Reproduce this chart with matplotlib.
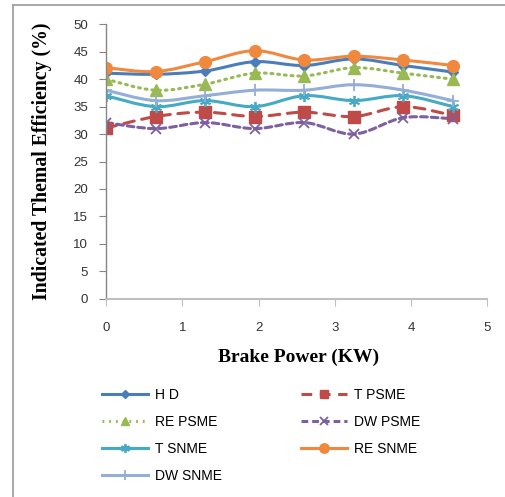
import matplotlib
matplotlib.use("Agg")
import matplotlib.pyplot as plt
from matplotlib.path import Path
from matplotlib.patches import PathPatch
from matplotlib.lines import Line2D

# brake power (KW)
power = [0, 0.65, 1.3, 1.95, 2.6, 3.25, 3.9, 4.55]

hd = [41.1, 40.9, 41.5, 43.2, 42.5, 43.7, 42.5, 41.3]
t_psme = [31.1, 33.2, 34.0, 33.2, 34.0, 33.2, 35.0, 33.4]
re_psme = [40.0, 38.0, 39.1, 41.1, 40.6, 42.1, 41.1, 40.0]
dw_psme = [32.1, 31.0, 32.1, 31.0, 32.1, 30.0, 33.0, 32.8]
t_snme = [37.0, 35.0, 36.1, 35.0, 37.0, 36.1, 37.0, 35.0]
re_snme = [42.1, 41.4, 43.2, 45.2, 43.5, 44.2, 43.5, 42.5]
dw_snme = [38.0, 36.1, 37.0, 38.0, 38.0, 39.0, 38.0, 36.1]

labels = ["H D", "T PSME", "RE PSME", "DW PSME", "T SNME", "RE SNME", "DW SNME"]
series = [hd, t_psme, re_psme, dw_psme, t_snme, re_snme, dw_snme]

# style per series: color, linestyle, marker, marker size
styles = [
    ("#4A7EBB", "-", "D", 5),
    ("#BE4B48", (0, (3.5, 2.5)), "s", 8),
    ("#98B954", (0, (0.6, 1.6)), "^", 8),
    ("#7D60A0", (0, (2.2, 1.3)), "x", 7),
    ("#46AAC5", "-", (6, 2, 0), 8),
    ("#F0883E", "-", "o", 8.5),
    ("#94AED6", "-", "+", 9),
]


def smooth_path(xs, ys):
    """bezier path through the points, like excel's smoothed line"""
    pts = list(zip(xs, ys))
    verts = [pts[0]]
    codes = [Path.MOVETO]
    n = len(pts)
    for i in range(n - 1):
        p0 = pts[i - 1] if i > 0 else pts[i]
        p1 = pts[i]
        p2 = pts[i + 1]
        p3 = pts[i + 2] if i + 2 < n else pts[i + 1]
        c1 = (p1[0] + (p2[0] - p0[0]) / 6, p1[1] + (p2[1] - p0[1]) / 6)
        c2 = (p2[0] - (p3[0] - p1[0]) / 6, p2[1] - (p3[1] - p1[1]) / 6)
        verts += [c1, c2, p2]
        codes += [Path.CURVE4] * 3
    return Path(verts, codes)


fig = plt.figure(figsize=(5.05, 4.97), dpi=100)
ax = fig.add_axes([0.21, 0.399, 0.755, 0.552])

handles = []
for vals, lab, (col, ls, mk, ms) in zip(series, labels, styles):
    mew = 1.3 if mk in ("x", "+") or isinstance(mk, tuple) else 1.0
    patch = PathPatch(smooth_path(power, vals), facecolor="none", edgecolor=col,
                      linewidth=2.2, linestyle=ls, capstyle="round")
    ax.add_patch(patch)
    ax.plot(power, vals, linestyle="none", marker=mk, markersize=ms, color=col,
            markeredgewidth=mew)
    handles.append(Line2D([], [], color=col, linestyle=ls, linewidth=2.2,
                          marker=mk, markersize=ms * 0.8, label=lab,
                          markeredgewidth=mew))

ax.set_xlim(0, 5)
ax.set_ylim(0, 50)
ax.set_xticks(range(0, 6))
ax.set_yticks(range(0, 51, 5))

for s in ["top", "right"]:
    ax.spines[s].set_visible(False)
ax.spines["left"].set_color("#868686")
ax.spines["bottom"].set_color("#BFBFBF")
ax.spines["left"].set_linewidth(1.0)
ax.spines["bottom"].set_linewidth(1.5)
ax.tick_params(axis="y", length=5, color="#868686", pad=8, labelsize=9.5)
ax.tick_params(axis="x", length=5, color="#BFBFBF", pad=12, labelsize=9.5)
for t in ax.get_xticklabels() + ax.get_yticklabels():
    t.set_fontfamily("Liberation Sans")
    t.set_color("#333333")

fig.text(0.083, 0.676, "Indicated Themal Efficiency (%)", rotation=90,
         ha="center", va="center", fontsize=14.2, fontweight="bold",
         family="Liberation Serif")
fig.text(0.592, 0.282, "Brake Power (KW)", ha="center", va="center",
         fontsize=14, fontweight="bold", family="Liberation Serif")

# column-first order so rows read H D / T PSME, RE PSME / DW PSME ...
order = [0, 2, 4, 6, 1, 3, 5]
leg = fig.legend([handles[i] for i in order], [labels[i] for i in order],
                 ncol=2, loc="upper left", bbox_to_anchor=(0.178, 0.245),
                 frameon=False, prop={"family": "Liberation Sans", "size": 10},
                 handlelength=3.3, handletextpad=0.5, columnspacing=5.7,
                 labelspacing=0.95)

# outer frame (left and top edges only)
fig.add_artist(Line2D([0.025, 0.025], [0, 0.99], transform=fig.transFigure,
                      color="#9A9A9A", linewidth=1.2))
fig.add_artist(Line2D([0.025, 1.0], [0.99, 0.99], transform=fig.transFigure,
                      color="#9A9A9A", linewidth=1.2))

fig.savefig("out.png", dpi=100)
